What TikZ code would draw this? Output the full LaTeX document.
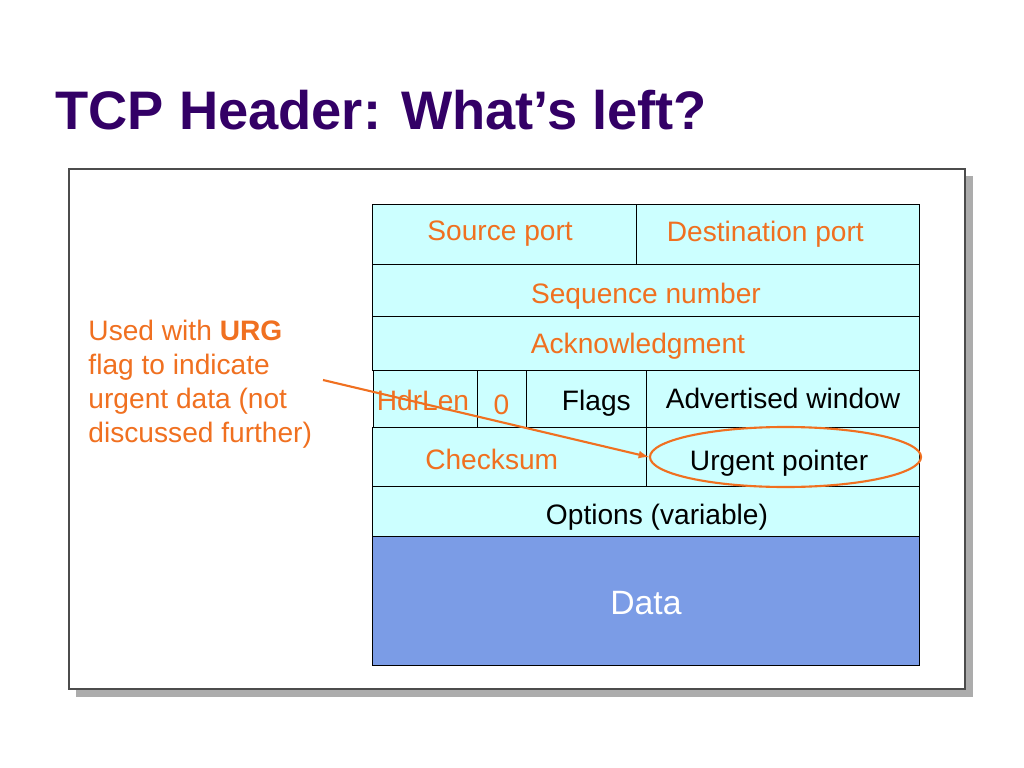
\documentclass[tikz,border=0pt]{standalone}
\usepackage{fontspec}
\setmainfont{Liberation Sans}
\usetikzlibrary{shapes.geometric,arrows,positioning}
\tikzstyle{cell}=[draw=black,fill=mycyan,rectangle,inner sep=0pt,font=\fontsize{20}{24}\selectfont]
\tikzstyle{ring}=[draw=myorange,ellipse,line width=1.5pt,inner sep=0pt]
\definecolor{mycyan}{RGB}{204,255,255}
\definecolor{mydata}{RGB}{123,156,230}
\definecolor{myorange}{RGB}{240,112,32}
\definecolor{mypurple}{RGB}{51,0,102}
% move a cell text sideways (#1) and up (#2)
\newcommand{\nudge}[3]{\hspace*{#1}\hspace*{#1}\raisebox{#2}[\height][\depth]{#3}}

\begin{document}
\begin{tikzpicture}[x=0.025cm,y=-0.025cm,line width=0.7pt]
\useasboundingbox (0,0) rectangle (1024,768);
\node[anchor=base west,text=mypurple,inner sep=0pt,font=\fontsize{38.6}{44}\selectfont\bfseries] (title) at (55,130) {TCP Header: What’s left?};
% frame with shadow
\fill[gray!65] (76,176) rectangle (973,697);
\draw[fill=white,draw=gray!60!black,line width=1.4pt] (69,169) rectangle (965,689);
% header rows
\draw (505,234) node [cell,minimum width=6.6cm,minimum height=1.5cm,text=myorange] (srcport) {\nudge{-3.5pt}{0pt}{Source port}};
\draw (778,234) node [cell,minimum width=7.05cm,minimum height=1.5cm,text=myorange] (dstport) {\nudge{-9pt}{0pt}{Destination port}};
\draw (646,290) node [cell,minimum width=13.65cm,minimum height=1.3cm,text=myorange] (seqnum) {\nudge{0pt}{-4.3pt}{Sequence number}};
\draw (646,343) node [cell,minimum width=13.65cm,minimum height=1.35cm,text=myorange] (acknum) {\nudge{-5.7pt}{-2.5pt}{Acknowledgment}};
\draw (425,398.5) node [cell,minimum width=2.6cm,minimum height=1.425cm,text=myorange] (hdrlen) {\nudge{-1.4pt}{-1.4pt}{HdrLen}};
\draw (501.5,398.5) node [cell,minimum width=1.225cm,minimum height=1.425cm,text=myorange] (zero) {\nudge{0pt}{-4.3pt}{0}};
\draw (586.5,398.5) node [cell,minimum width=3.025cm,minimum height=1.425cm] (flags) {\nudge{7pt}{-3.2pt}{Flags}};
\draw (783,398.5) node [cell,minimum width=6.8cm,minimum height=1.425cm] (advwin) {Advertised window};
\draw (510,456.5) node [cell,minimum width=6.85cm,minimum height=1.475cm,text=myorange] (chksum) {\nudge{-13pt}{-2.1pt}{Checksum}};
\draw (783,456.5) node [cell,minimum width=6.8cm,minimum height=1.475cm] (urgptr) {\nudge{-2.8pt}{-4.6pt}{Urgent pointer}};
\draw (646,511.5) node [cell,minimum width=13.65cm,minimum height=1.275cm] (options) {\nudge{7.8pt}{-4.3pt}{Options (variable)}};
\draw (646,601) node [cell,fill=mydata,minimum width=13.65cm,minimum height=3.2cm,text=white,font=\fontsize{24}{28}\selectfont] (data) {\nudge{0pt}{-1.4pt}{Data}};
% note on the urgent pointer
\node[anchor=north west,text=myorange,align=left,inner sep=0pt,font=\fontsize{20}{24}\selectfont] (urgnote) at (88,320) {Used with \textbf{URG}\\flag to indicate\\urgent data (not\\discussed further)};
\draw (785.5,457) node [ring,minimum width=6.775cm,minimum height=1.5cm] (urgring) {};
\coordinate (urgtail) at (323,380);
\draw[myorange,line width=1.5pt,-latex] (urgtail) -- (urgring.west);
\end{tikzpicture}
\end{document}
